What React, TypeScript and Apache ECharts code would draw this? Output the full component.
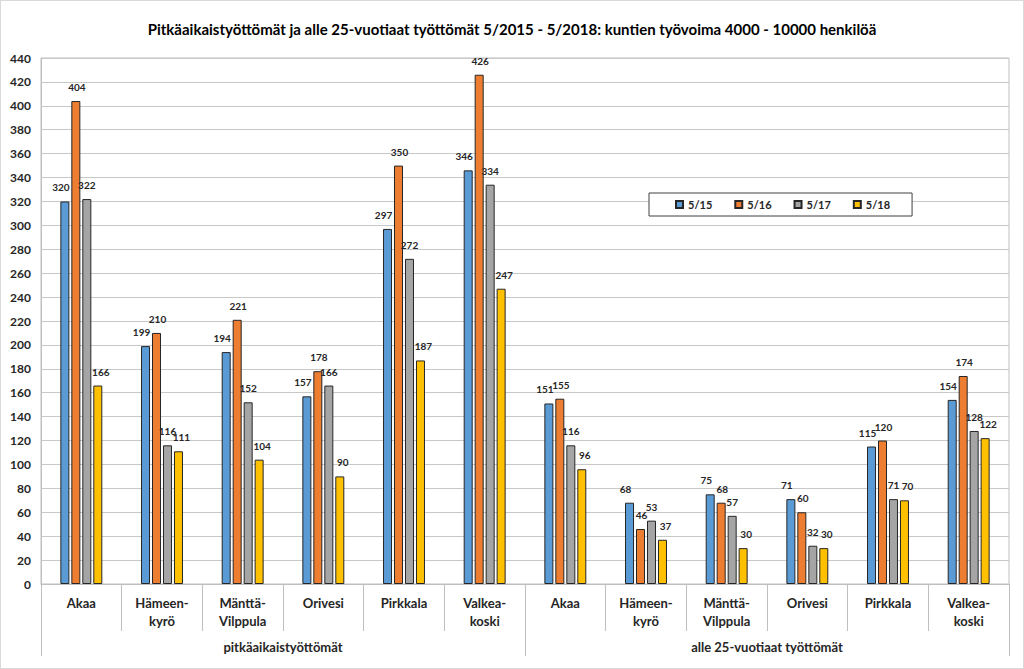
import React, { useEffect, useRef } from "react";
import * as echarts from "echarts";

const categories = [
  "Akaa", "Hämeen-\nkyrö", "Mänttä-\nVilppula", "Orivesi", "Pirkkala", "Valkea-\nkoski",
  "Akaa", "Hämeen-\nkyrö", "Mänttä-\nVilppula", "Orivesi", "Pirkkala", "Valkea-\nkoski",
];
const groups = ["pitkäaikaistyöttömät", "alle 25-vuotiaat työttömät"];
const seriesNames = ["5/15", "5/16", "5/17", "5/18"];
const v515 = [320, 199, 194, 157, 297, 346, 151, 68, 75, 71, 115, 154];
const v516 = [404, 210, 221, 178, 350, 426, 155, 46, 68, 60, 120, 174];
const v517 = [322, 116, 152, 166, 272, 334, 116, 53, 57, 32, 71, 128];
const v518 = [166, 111, 104, 90, 187, 247, 96, 37, 30, 30, 70, 122];
const colors = ["#5B9BD5", "#ED7D31", "#A5A5A5", "#FFC000"];
const labelShift = [-4, 1, 0, 3];
const titleText =
  "Pitkäaikaistyöttömät ja alle 25-vuotiaat työttömät 5/2015 - 5/2018: kuntien työvoima 4000 - 10000 henkilöä";

export default function App() {
  const ref = useRef<HTMLDivElement>(null);
  useEffect(() => {
    if (!ref.current) return;
    const chart = echarts.init(ref.current, undefined, { renderer: "svg" });
    const values = [v515, v516, v517, v518];
    const font = "Lato, 'Open Sans', 'Liberation Sans', sans-serif";
    chart.setOption({
      animation: false,
      backgroundColor: "#fff",
      textStyle: { fontFamily: font },
      title: {
        text: titleText,
        left: "center",
        top: 15,
        textStyle: { fontSize: 15, fontWeight: "bold", color: "#000", fontFamily: font },
      },
      legend: {
        data: seriesNames,
        left: 648,
        top: 192,
        orient: "horizontal",
        backgroundColor: "#fff",
        borderColor: "#404040",
        borderWidth: 1,
        padding: [6, 22, 6, 26],
        itemWidth: 7,
        itemHeight: 7,
        itemGap: 22,
        icon: "rect",
        textStyle: { fontSize: 11, fontWeight: "bold", color: "#262626", fontFamily: font },
      },
      grid: {
        left: 40,
        right: 14,
        top: 57,
        bottom: 84,
        show: true,
        borderColor: "#BFBFBF",
        borderWidth: 1,
        backgroundColor: "transparent",
      },
      xAxis: [
        {
          type: "category",
          data: categories,
          position: "bottom",
          offset: 0,
          axisLine: { show: true, lineStyle: { color: "#BFBFBF" } },
          axisTick: { show: true, length: 47, interval: 0, lineStyle: { color: "#BFBFBF" } },
          axisLabel: {
            interval: 0,
            margin: 10,
            fontSize: 13,
            fontWeight: "bold",
            color: "#262626",
            lineHeight: 18,
            fontFamily: font,
          },
        },
        {
          type: "category",
          data: groups,
          position: "bottom",
          offset: 0,
          axisLine: { show: false },
          axisTick: { show: true, length: 72, interval: 0, lineStyle: { color: "#BFBFBF" } },
          axisLabel: {
            interval: 0,
            margin: 56,
            fontSize: 13,
            fontWeight: "bold",
            color: "#262626",
            fontFamily: font,
          },
          splitLine: { show: false },
        },
      ],
      yAxis: {
        type: "value",
        min: 0,
        max: 440,
        interval: 20,
        axisLine: { show: true, lineStyle: { color: "#BFBFBF" } },
        axisTick: { show: false },
        axisLabel: { fontSize: 12, fontWeight: "bold", color: "#262626", margin: 10, fontFamily: font },
        splitLine: { show: true, lineStyle: { color: "#C8C8C8", width: 1 } },
      },
      series: seriesNames.map((name, i) => ({
        name,
        type: "bar",
        xAxisIndex: 0,
        data: values[i],
        barWidth: 9,
        barGap: "22%",
        itemStyle: { color: colors[i], borderColor: "#262626", borderWidth: 1 },
        label: {
          show: true,
          position: "top",
          distance: 9,
          offset: [labelShift[i], 0],
          fontSize: 10,
          fontWeight: "bold",
          color: "#262626",
          fontFamily: font,
        },
      })),
    });
    return () => chart.dispose();
  }, []);
  return (
    <div
      ref={ref}
      style={{
        position: "absolute",
        left: 0,
        top: 0,
        width: 1024,
        height: 669,
        boxSizing: "border-box",
        border: "1px solid #D9D9D9",
      }}
    />
  );
}
